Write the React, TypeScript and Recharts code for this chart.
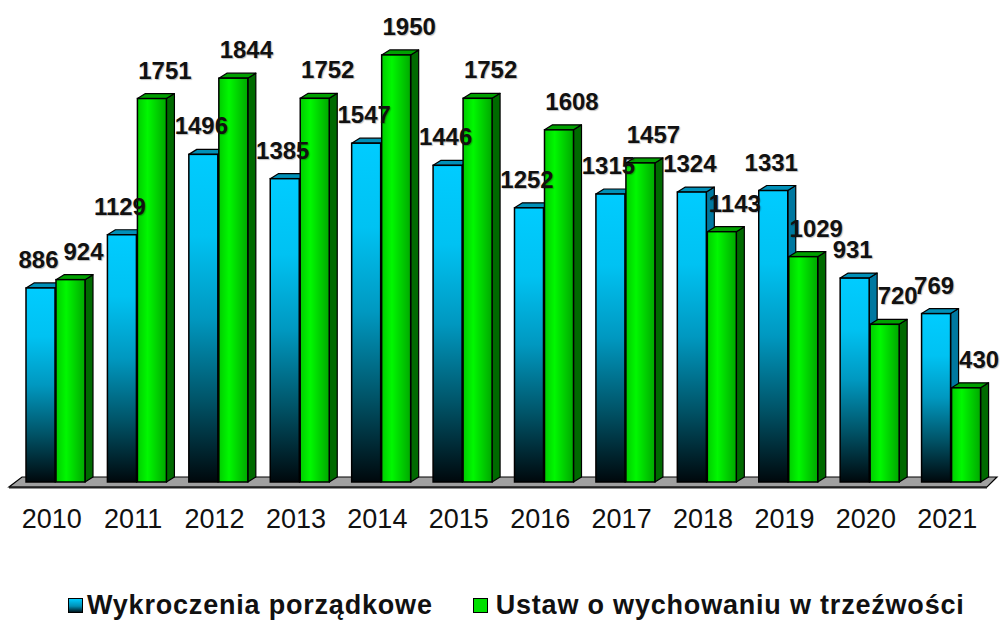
import React from "react";
import { BarChart, Bar, XAxis, YAxis, LabelList, Legend, ReferenceLine } from "recharts";

const years = ["2010", "2011", "2012", "2013", "2014", "2015", "2016", "2017", "2018", "2019", "2020", "2021"];
const wykroczenia = [886, 1129, 1496, 1385, 1547, 1446, 1252, 1315, 1324, 1331, 931, 769];
const ustawa = [924, 1751, 1844, 1752, 1950, 1752, 1608, 1457, 1143, 1029, 720, 430];
const seriesNames = ["Wykroczenia porządkowe", "Ustaw o wychowaniu w trzeźwości"];

const data = years.map((y, i) => ({ year: y, a: wykroczenia[i], b: ustawa[i] }));

const FONT = "'Liberation Sans', Arial, sans-serif";
const DX = 8;
const DY = 5;

const make3DBar = (frontFill: string, sideFill: string, topFill: string) => (props: any) => {
  const { x, y, width, height } = props;
  if (width == null || height == null || height <= 0) return <g />;
  const w = width;
  const h = height;
  return (
    <g>
      <polygon
        points={`${x + w},${y} ${x + w + DX},${y - DY} ${x + w + DX},${y + h - DY} ${x + w},${y + h}`}
        fill={sideFill}
        stroke="#000"
        strokeWidth={1.2}
        strokeLinejoin="round"
      />
      <polygon
        points={`${x},${y} ${x + DX},${y - DY} ${x + w + DX},${y - DY} ${x + w},${y}`}
        fill={topFill}
        stroke="#000"
        strokeWidth={1.2}
        strokeLinejoin="round"
      />
      <rect x={x} y={y} width={w} height={h} fill={frontFill} stroke="#000" strokeWidth={1.5} />
    </g>
  );
};

const BlueBar = make3DBar("url(#blueGrad)", "#0078A0", "#0090B8");
const GreenBar = make3DBar("url(#greenGrad)", "#006A00", "#00A000");

const makeLabel = (shift: number) => (props: any) => {
  const { x, y, width, value } = props;
  return (
    <text
      x={x + width / 2 + shift}
      y={y - 20}
      textAnchor="middle"
      fontFamily={FONT}
      fontWeight="bold"
      fontSize={24}
      fill="#111"
      style={{ textShadow: "1px 1px 1px rgba(0,0,0,0.25)" }}
    >
      {value}
    </text>
  );
};

const Floor = (props: any) => {
  const { x1, x2, y1 } = props;
  const y0 = y1;
  return (
    <g>
      <polygon
        points={`${x1 - 6},${y0 + 5} ${x2 - 5},${y0 + 5} ${x2 + 5},${y0 - 5} ${x1 + 7},${y0 - 5}`}
        fill="#A0A0A0"
        stroke="#000"
        strokeWidth={1.2}
      />
      <line x1={x1 - 6} y1={y0 + 5.5} x2={x2 - 5} y2={y0 + 5.5} stroke="#222" strokeWidth={2} />
    </g>
  );
};

const YearTick = (props: any) => {
  const { x, y, payload } = props;
  return (
    <text x={x - 4} y={y + 38} textAnchor="middle" fontFamily={FONT} fontSize={27} fill="#111">
      {payload.value}
    </text>
  );
};

const LegendContent = () => (
  <div style={{ display: "flex", alignItems: "center", paddingLeft: 68, fontFamily: FONT }}>
    <div style={{ display: "flex", alignItems: "center", marginRight: 40 }}>
      <span
        style={{
          display: "inline-block",
          width: 13,
          height: 13,
          border: "1.5px solid #000",
          background: "linear-gradient(#00CCFF, #0090B5 55%, #001820)",
          marginRight: 4,
        }}
      />
      <span style={{ fontWeight: "bold", fontSize: 27, color: "#111", letterSpacing: 0.8 }}>{seriesNames[0]}</span>
    </div>
    <div style={{ display: "flex", alignItems: "center" }}>
      <span
        style={{
          display: "inline-block",
          width: 13,
          height: 13,
          border: "1.5px solid #000",
          background: "#00E000",
          marginRight: 8,
        }}
      />
      <span style={{ fontWeight: "bold", fontSize: 27, color: "#111", letterSpacing: 0.8 }}>{seriesNames[1]}</span>
    </div>
  </div>
);

export default function App() {
  return (
    <div style={{ position: "absolute", left: 0, top: 0, width: 1000, height: 620, background: "#fff" }}>
      <BarChart
        width={1000}
        height={620}
        data={data}
        margin={{ top: 44, right: 8, left: 15, bottom: 98 }}
        barSize={29}
        barGap={1}
      >
        <defs>
          <linearGradient id="blueGrad" x1="0" y1="0" x2="0" y2="1">
            <stop offset="0" stopColor="#00CCFF" />
            <stop offset="0.25" stopColor="#00C2F2" />
            <stop offset="0.5" stopColor="#0098C0" />
            <stop offset="0.75" stopColor="#005468" />
            <stop offset="1" stopColor="#00080C" />
          </linearGradient>
          <linearGradient id="greenGrad" x1="0" y1="0" x2="1" y2="0">
            <stop offset="0" stopColor="#00CC00" />
            <stop offset="0.35" stopColor="#00F800" />
            <stop offset="1" stopColor="#00A800" />
          </linearGradient>
        </defs>
        <XAxis
          dataKey="year"
          height={40}
          axisLine={false}
          tickLine={false}
          interval={0}
          tick={<YearTick />}
        />
        <YAxis hide domain={[0, 2000]} />
        <ReferenceLine y={0} shape={<Floor />} ifOverflow="visible" zIndex={50} />
        <Legend
          layout="horizontal"
          verticalAlign="middle"
          align="center"
          wrapperStyle={{ top: 590, left: 0, width: 1000 }}
          content={<LegendContent />}
        />
        <Bar dataKey="a" name={seriesNames[0]} shape={BlueBar} isAnimationActive={false}>
          <LabelList dataKey="a" content={makeLabel(-2)} />
        </Bar>
        <Bar dataKey="b" name={seriesNames[1]} shape={GreenBar} isAnimationActive={false}>
          <LabelList dataKey="b" content={makeLabel(13)} />
        </Bar>
      </BarChart>
    </div>
  );
}
